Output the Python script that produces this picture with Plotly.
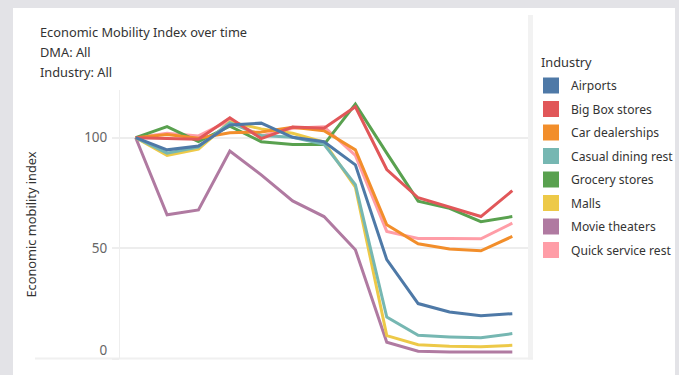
import plotly.graph_objects as go

# ---------------- data ----------------
periods = list(range(1, 14))

industries = ["Airports", "Big Box stores", "Car dealerships", "Casual dining rest",
              "Grocery stores", "Malls", "Movie theaters", "Quick service rest"]
colors = ["#4e79a7", "#e15759", "#f28e2b", "#76b7b2",
          "#59a14f", "#edc948", "#b07aa1", "#ff9da7"]

airports = [100, 94.5, 96.2, 105.8, 106.6, 100.2, 98.2, 87.7, 44.8, 24.9, 21.1, 19.4, 20.3]
big_box = [100, 99.5, 99.3, 109.0, 99.6, 104.8, 104.3, 114.0, 85.6, 72.8, 68.4, 64.3, 76.0]
car_dealerships = [100, 101.5, 99.8, 102.2, 102.6, 104.7, 103.2, 94.5, 60.6, 52.0, 49.6, 48.8, 55.3]
casual_dining = [100, 93.0, 95.7, 106.8, 101.0, 100.2, 97.0, 78.7, 18.8, 10.5, 9.8, 9.4, 11.3]
grocery = [100, 105.0, 98.2, 105.2, 98.2, 96.9, 96.9, 115.2, 93.0, 71.3, 68.0, 62.0, 64.3]
malls = [100, 92.0, 94.8, 107.2, 104.0, 102.0, 98.0, 77.6, 10.4, 6.3, 5.6, 5.3, 6.0]
movie_theaters = [100, 65.1, 67.3, 94.0, 83.2, 71.4, 64.3, 49.3, 7.4, 3.3, 3.0, 2.9, 3.0]
quick_service = [100, 102.0, 100.8, 107.8, 100.8, 104.3, 105.0, 92.0, 57.6, 54.4, 54.4, 54.2, 61.3]

series = [airports, big_box, car_dealerships, casual_dining,
          grocery, malls, movie_theaters, quick_service]

y_ticks = [0, 50, 100]
y_tick_labels = ["0", "50", "100"]
y_range = [-0.2, 121.6]

title_lines = ["Economic Mobility Index over time", "DMA: All", "Industry: All"]
y_title = "Economic mobility index"
legend_title = "Industry"

FONT = "Noto Sans"
TEXT = "#333333"
FS = 12.8

# ---------------- figure ----------------
fig = go.Figure()

combo = list(zip(industries, colors, series))
# draw lines (first legend entry drawn last, i.e. on top)
for name, color, vals in reversed(combo):
    fig.add_trace(go.Scatter(
        x=periods, y=vals, mode="lines", name=name,
        line=dict(color=color, width=3),
        showlegend=False, hoverinfo="x+y+name"))
# legend swatches
for name, color, vals in combo:
    fig.add_trace(go.Scatter(
        x=[None], y=[None], mode="markers", name=name, legendgroup=name,
        marker=dict(symbol="square", size=16, color=color),
        showlegend=True, hoverinfo="skip"))

W, H = 679, 375
L, R, T, B = 120, 151, 90, 16
pw, ph = W - L - R, H - T - B


def px_x(p):
    return (p - L) / pw


def px_y(p):
    return (H - B - p) / ph


shapes = [
    # white card
    dict(type="rect", xref="paper", yref="paper", layer="below",
         x0=px_x(13), x1=px_x(675), y0=px_y(380), y1=px_y(8),
         fillcolor="white", line=dict(width=0)),
    # right pane border
    dict(type="rect", xref="paper", yref="paper", layer="below",
         x0=px_x(528), x1=px_x(533), y0=px_y(359.5), y1=px_y(15),
         fillcolor="#f2f2f2", line=dict(width=0)),
    # bottom pane border
    dict(type="rect", xref="paper", yref="paper", layer="below",
         x0=px_x(35), x1=px_x(533), y0=px_y(359.5), y1=px_y(357.5),
         fillcolor="#f0f0f0", line=dict(width=0)),
]

annotations = []
for i, t in enumerate(title_lines):
    annotations.append(dict(
        text=t, xref="paper", yref="paper", x=px_x(38), y=px_y(32 + 20 * i),
        xanchor="left", yanchor="middle", showarrow=False,
        font=dict(family=FONT, size=FS, color=TEXT)))
annotations.append(dict(
    text=legend_title, xref="paper", yref="paper", x=px_x(539), y=px_y(62),
    xanchor="left", yanchor="middle", showarrow=False,
    font=dict(family=FONT, size=FS, color=TEXT)))

tick_font = dict(family=FONT, size=13.5, color="#666666")
# Tableau nudges the bottom edge label up inside the pane: add an empty second
# line so the "0" is lifted above its tick position
tick_text = [lab + ("<br>&nbsp;" if v == min(y_ticks) else "")
             for v, lab in zip(y_ticks, y_tick_labels)]

fig.update_layout(
    width=W, height=H,
    margin=dict(l=L, r=R, t=T, b=B, autoexpand=False),
    paper_bgcolor="#e3e3e7",
    plot_bgcolor="rgba(0,0,0,0)",
    font=dict(family=FONT, color=TEXT),
    shapes=shapes,
    annotations=annotations,
    showlegend=True,
    legend=dict(
        x=px_x(531), xanchor="left", y=px_y(71), yanchor="top",
        traceorder="grouped", tracegroupgap=4.5, maxheight=400,
        bgcolor="rgba(0,0,0,0)",
        font=dict(family=FONT, size=12.1, color=TEXT),
    ),
    xaxis=dict(range=[0.5, 13.5], showticklabels=False, showgrid=False,
               zeroline=False, showline=False, ticks=""),
    yaxis=dict(range=y_range, tickmode="array", tickvals=y_ticks, ticktext=tick_text,
               ticklabeloverflow="allow",
               ticks="outside", ticklen=7, tickcolor="#eeeeee", tickwidth=1.5,
               showgrid=True, gridcolor="#ededed", gridwidth=1.5,
               zeroline=False, showline=True, linecolor="#eeeeee", linewidth=1,
               tickfont=tick_font, ticklabelstandoff=2,
               title=dict(text=y_title, standoff=44,
                          font=dict(family=FONT, size=FS, color=TEXT))),
)

fig.write_html("out.html", config={"displayModeBar": False})
